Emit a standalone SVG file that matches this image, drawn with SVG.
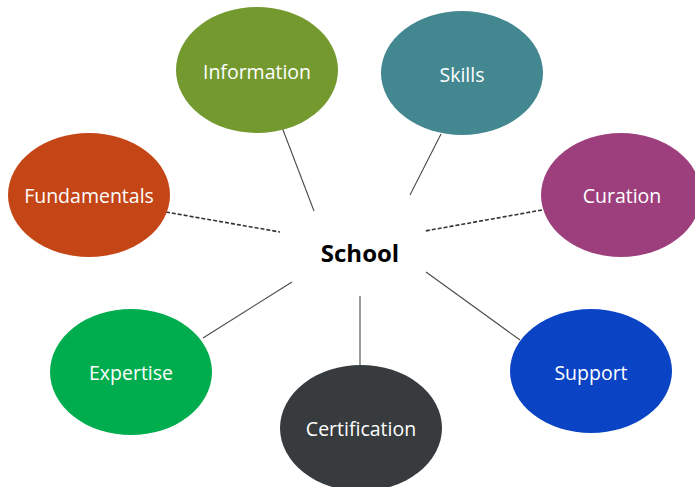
<svg xmlns="http://www.w3.org/2000/svg" width="695" height="487" viewBox="0 0 695 487">
<style>
.lbl{font-family:"Open Sans","Noto Sans","DejaVu Sans",sans-serif;font-size:19.5px;fill:#ffffff;text-anchor:middle;dominant-baseline:central}
.ln{stroke:#4a4a4a;stroke-width:1.1;fill:none}
.dash{stroke:#333;stroke-width:1.6;stroke-dasharray:4 2;fill:none}
</style>
<rect width="695" height="487" fill="#ffffff"/>
<g id="connectors">
<line class="ln" x1="280" y1="122" x2="314" y2="211"/>
<line class="ln" x1="441" y1="134" x2="410" y2="195"/>
<line class="dash" x1="160" y1="211" x2="280" y2="232"/>
<line class="dash" x1="542" y1="210" x2="425" y2="231"/>
<line class="ln" x1="203" y1="338" x2="292" y2="282"/>
<line class="ln" x1="360" y1="296" x2="360" y2="365"/>
<line class="ln" x1="426" y1="272" x2="520" y2="340"/>
</g>
<g id="school">
<text x="360" y="252" font-family="'Open Sans','Noto Sans',sans-serif" font-size="24" font-weight="bold" fill="#000" text-anchor="middle" dominant-baseline="central">School</text>
</g>
<g id="information">
<ellipse cx="257" cy="70" rx="81" ry="63" fill="#74992E"/>
<text class="lbl" x="257" y="71">Information</text>
</g>
<g id="skills">
<ellipse cx="462" cy="73" rx="81" ry="62" fill="#438790"/>
<text class="lbl" x="462" y="74">Skills</text>
</g>
<g id="fundamentals">
<ellipse cx="89" cy="195" rx="81" ry="62" fill="#C44515"/>
<text class="lbl" x="89" y="195">Fundamentals</text>
</g>
<g id="curation">
<ellipse cx="621" cy="195" rx="80" ry="62" fill="#9E3F7D"/>
<text class="lbl" x="622" y="195">Curation</text>
</g>
<g id="expertise">
<ellipse cx="131" cy="372" rx="81" ry="63" fill="#00AD4E"/>
<text class="lbl" x="131" y="372">Expertise</text>
</g>
<g id="certification">
<ellipse cx="361" cy="428" rx="81" ry="63" fill="#373B3D"/>
<text class="lbl" x="361" y="428">Certification</text>
</g>
<g id="support">
<ellipse cx="591" cy="371" rx="81" ry="62" fill="#0A44C5"/>
<text class="lbl" x="591" y="372">Support</text>
</g>
</svg>
